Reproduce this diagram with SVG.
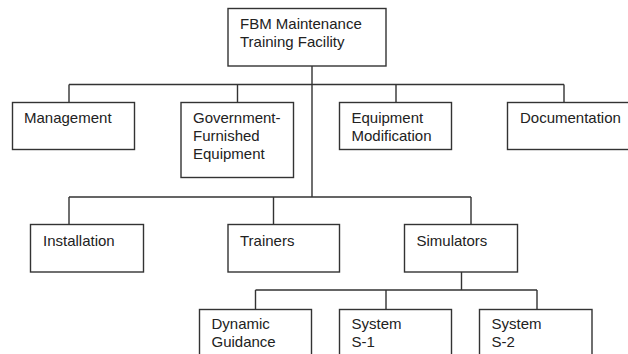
<svg xmlns="http://www.w3.org/2000/svg" width="628" height="354" viewBox="0 0 628 354">
<style>
.box{fill:#fff;stroke:#333;stroke-width:1.4}
.ln{fill:none;stroke:#333;stroke-width:1.4}
text{font-family:"Liberation Sans",Arial,sans-serif;font-size:15px;fill:#222}
</style>
<rect width="628" height="354" fill="#fff"/>
<g id="connectors">
<path class="ln" d="M312 66V197M69 84.5H564M69 84.5V102M237.5 84.5V102M396 84.5V102M564 84.5V102"/>
<path class="ln" d="M69 197H471M69 197V224M273.5 197V224M471 197V224"/>
<path class="ln" d="M461.5 272V290M255.5 290H537M255.5 290V309M386 290V309M537 290V309"/>
</g>
<g id="fbm"><rect class="box" x="228" y="8.5" width="158" height="57.5"/><text x="240" y="29">FBM Maintenance</text><text x="240" y="47">Training Facility</text></g>
<g id="management"><rect class="box" x="12.5" y="102.5" width="122" height="47"/><text x="24" y="123">Management</text></g>
<g id="gfe"><rect class="box" x="181" y="102.5" width="112.5" height="75"/><text x="193" y="123">Government-</text><text x="193" y="141">Furnished</text><text x="193" y="159">Equipment</text></g>
<g id="equipmod"><rect class="box" x="339.5" y="102.5" width="112" height="47"/><text x="351.5" y="123">Equipment</text><text x="351.5" y="141">Modification</text></g>
<g id="documentation"><rect class="box" x="507.5" y="102.5" width="125" height="47"/><text x="520" y="123">Documentation</text></g>
<g id="installation"><rect class="box" x="30.5" y="224.5" width="113" height="47.5"/><text x="43" y="246">Installation</text></g>
<g id="trainers"><rect class="box" x="228" y="224.5" width="111.5" height="47.5"/><text x="240" y="246">Trainers</text></g>
<g id="simulators"><rect class="box" x="404.5" y="224.5" width="113" height="47.5"/><text x="416.5" y="246">Simulators</text></g>
<g id="dynamic"><rect class="box" x="199.5" y="309.5" width="112" height="60"/><text x="211.5" y="329">Dynamic</text><text x="211.5" y="347">Guidance</text></g>
<g id="s1"><rect class="box" x="339.5" y="309.5" width="112" height="60"/><text x="351.5" y="329">System</text><text x="351.5" y="347">S-1</text></g>
<g id="s2"><rect class="box" x="479.5" y="309.5" width="112.5" height="60"/><text x="491.5" y="329">System</text><text x="491.5" y="347">S-2</text></g>
</svg>
